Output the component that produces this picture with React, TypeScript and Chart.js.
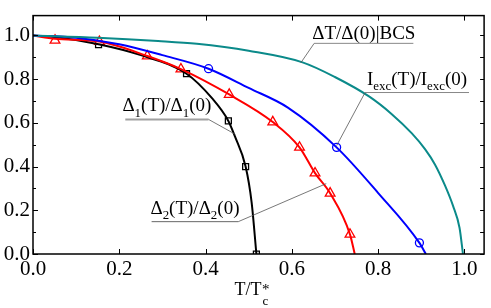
import React, { useEffect, useRef } from "react";
import { Chart, registerables } from "chart.js";

Chart.register(...registerables);

// ---- data ----
const bcsT = [0, 0.15, 0.29, 0.38, 0.5, 0.625, 0.7, 0.78, 0.832, 0.878, 0.909, 0.932, 0.955, 0.974, 0.989, 0.997];
const bcsV = [1.0, 0.99, 0.975, 0.962, 0.93, 0.877, 0.81, 0.72, 0.64, 0.553, 0.48, 0.41, 0.315, 0.22, 0.12, 0.0];

const iexcLineT = [0, 0.1, 0.2, 0.3, 0.407, 0.5, 0.591, 0.704, 0.8, 0.896, 0.911];
const iexcLineV = [1.0, 0.99, 0.96, 0.91, 0.848, 0.76, 0.67, 0.488, 0.28, 0.051, 0.0];
const iexcMarkT = [0.407, 0.704, 0.896];
const iexcMarkV = [0.848, 0.488, 0.051];

const d2T = [0, 0.051, 0.154, 0.265, 0.343, 0.455, 0.556, 0.618, 0.654, 0.689, 0.735, 0.746];
const d2V = [1.0, 0.985, 0.972, 0.906, 0.846, 0.73, 0.604, 0.488, 0.37, 0.278, 0.09, 0.0];
const d2MarkT = [0.051, 0.154, 0.265, 0.343, 0.455, 0.556, 0.618, 0.654, 0.689, 0.735];
const d2MarkV = [0.978, 0.972, 0.906, 0.846, 0.73, 0.604, 0.488, 0.37, 0.278, 0.09];

const d1T = [0, 0.05, 0.152, 0.25, 0.356, 0.415, 0.453, 0.468, 0.493, 0.507, 0.518];
const d1V = [1.0, 0.993, 0.96, 0.91, 0.825, 0.713, 0.609, 0.539, 0.4, 0.235, 0.0];
const d1MarkT = [0.152, 0.356, 0.453, 0.493, 0.518];
const d1MarkV = [0.958, 0.825, 0.609, 0.4, 0.0];

const xTicks = [0, 0.2, 0.4, 0.6, 0.8, 1.0];
const yTicks = [0, 0.2, 0.4, 0.6, 0.8, 1.0];

const COL_BCS = "#0b8a8a";
const COL_IEXC = "#0000ff";
const COL_D2 = "#ff0000";
const COL_D1 = "#000000";

const FONT = '"Liberation Serif", "Times New Roman", serif';

type Run = [string, "n" | "sub" | "sup"];

const labels: { runs: Run[]; ux0: number; ux1: number; uy: number; lx: number; ly: number; ucol: string; uw: number }[] = [
  { runs: [["Δ", "n"], ["1", "sub"], ["(T)/Δ", "n"], ["1", "sub"], ["(0)", "n"]], ux0: 0.214, ux1: 0.407, uy: 0.616, lx: 0.469, ly: 0.548, ucol: "#a0a0a0", uw: 2 },
  { runs: [["Δ", "n"], ["2", "sub"], ["(T)/Δ", "n"], ["2", "sub"], ["(0)", "n"]], ux0: 0.275, ux1: 0.476, uy: 0.148, lx: 0.68, ly: 0.322, ucol: "#666666", uw: 1 },
  { runs: [["ΔT/Δ(0)|BCS", "n"]], ux0: 0.652, ux1: 0.882, uy: 0.964, lx: 0.621, ly: 0.875, ucol: "#888888", uw: 1 },
  { runs: [["I", "n"], ["exc", "sub"], ["(T)/I", "n"], ["exc", "sub"], ["(0)", "n"]], ux0: 0.77, ux1: 1.011, uy: 0.739, lx: 0.704, ly: 0.496, ucol: "#888888", uw: 1 },
];

function drawRuns(ctx: CanvasRenderingContext2D, runs: Run[], x: number, y: number, size: number) {
  let cx = x;
  for (const [t, m] of runs) {
    const s = m === "n" ? size : size * 0.68;
    ctx.font = `${s}px ${FONT}`;
    const dy = m === "sub" ? size * 0.28 : m === "sup" ? -size * 0.42 : 0;
    ctx.fillText(t, cx, y + dy);
    cx += ctx.measureText(t).width;
  }
  return cx - x;
}

function measureRuns(ctx: CanvasRenderingContext2D, runs: Run[], size: number) {
  let w = 0;
  for (const [t, m] of runs) {
    const s = m === "n" ? size : size * 0.68;
    ctx.font = `${s}px ${FONT}`;
    w += ctx.measureText(t).width;
  }
  return w;
}

const framePlugin = {
  id: "frame",
  afterDatasetsDraw(chart: any) {
    const ctx: CanvasRenderingContext2D = chart.ctx;
    const { left, right, top, bottom } = chart.chartArea;
    const xs = chart.scales.x;
    const ys = chart.scales.y;
    ctx.save();
    // annotations
    for (const a of labels) {
      const ux0 = xs.getPixelForValue(a.ux0);
      const ux1 = xs.getPixelForValue(a.ux1);
      const uy = ys.getPixelForValue(a.uy);
      const lx = xs.getPixelForValue(a.lx);
      const ly = ys.getPixelForValue(a.ly);
      ctx.strokeStyle = a.ucol;
      ctx.lineWidth = a.uw;
      ctx.beginPath();
      ctx.moveTo(ux0, uy);
      ctx.lineTo(ux1, uy);
      ctx.stroke();
      ctx.strokeStyle = "#555555";
      ctx.lineWidth = 0.8;
      ctx.beginPath();
      const sx = a.lx < a.ux0 ? ux0 : ux1;
      ctx.moveTo(sx, uy);
      ctx.lineTo(lx, ly);
      ctx.stroke();
      const size = 19;
      const w = measureRuns(ctx, a.runs, size);
      ctx.fillStyle = "#000";
      ctx.textBaseline = "alphabetic";
      ctx.textAlign = "left";
      const hasSub = a.runs.some((r) => r[1] === "sub");
      drawRuns(ctx, a.runs, (ux0 + ux1) / 2 - w / 2, uy - (hasSub ? 8 : 4), size);
    }
    // frame
    ctx.strokeStyle = "#000";
    ctx.lineWidth = 1.5;
    ctx.strokeRect(left, top, right - left, bottom - top);
    ctx.lineWidth = 1;
    ctx.beginPath();
    for (let v = 0; v <= 1.0001; v += 0.2) {
      const px = Math.round(xs.getPixelForValue(v)) + 0.5;
      ctx.moveTo(px, bottom);
      ctx.lineTo(px, bottom - 5);
      ctx.moveTo(px, top);
      ctx.lineTo(px, top + 5);
    }
    for (let i = 0; i <= 10; i++) {
      const v = i / 10;
      const py = Math.round(ys.getPixelForValue(v)) + 0.5;
      const len = i % 2 === 0 ? 5 : 3;
      ctx.moveTo(left, py);
      ctx.lineTo(left + len, py);
      ctx.moveTo(right, py);
      ctx.lineTo(right - 4, py);
    }
    ctx.stroke();
    // x axis title T/T*c
    ctx.fillStyle = "#000";
    ctx.textAlign = "left";
    ctx.textBaseline = "alphabetic";
    const cx = (left + right) / 2 - 24;
    const by = 295;
    ctx.font = `18px ${FONT}`;
    const w0 = ctx.measureText("T/T").width;
    ctx.fillText("T/T", cx, by);
    ctx.font = `15px ${FONT}`;
    ctx.fillText("*", cx + w0 + 0.5, by - 1);
    ctx.font = `13px ${FONT}`;
    ctx.fillText("c", cx + w0 + 1, by + 10);
    ctx.restore();
  },
};

function pts(xs: number[], ys: number[]) {
  return xs.map((x, i) => ({ x, y: ys[i] }));
}

export default function App() {
  const ref = useRef<HTMLCanvasElement>(null);
  useEffect(() => {
    document.body.style.margin = "0";
    const lineDs = (data: any, color: string) => ({
      data,
      borderColor: color,
      borderWidth: 2,
      pointRadius: 0,
      showLine: true,
      cubicInterpolationMode: "monotone" as const,
      fill: false,
    });
    const markDs = (data: any, color: string, style: string, r: number) => ({
      data,
      borderColor: color,
      backgroundColor: "#ffffff",
      borderWidth: 1.3,
      pointRadius: r,
      pointStyle: style,
      showLine: false,
    });
    const chart = new Chart(ref.current!, {
      type: "scatter",
      data: {
        datasets: [
          lineDs(pts(bcsT, bcsV), COL_BCS),
          lineDs(pts(iexcLineT, iexcLineV), COL_IEXC),
          lineDs(pts(d2T, d2V), COL_D2),
          lineDs(pts(d1T, d1V), COL_D1),
          markDs(pts(iexcMarkT, iexcMarkV), COL_IEXC, "circle", 4),
          markDs(pts(d2MarkT, d2MarkV), COL_D2, "triangle", 5.6),
          markDs(pts(d1MarkT, d1MarkV), COL_D1, "rect", 4.2),
        ],
      },
      options: {
        animation: false,
        responsive: false,
        maintainAspectRatio: false,
        layout: { padding: { top: 3, right: 3, left: 0, bottom: 0 } },
        plugins: { legend: { display: false }, tooltip: { enabled: false } },
        scales: {
          x: {
            type: "linear",
            min: 0,
            max: 1.046,
            afterFit: (s: any) => {
              s.height = 54;
            },
            afterBuildTicks: (s: any) => {
              s.ticks = xTicks.map((v) => ({ value: v }));
            },
            grid: { display: false, drawTicks: false },
            border: { display: false },
            ticks: {
              padding: 3,
              color: "#000",
              font: { family: FONT, size: 21 },
              callback: (v: any) => Number(v).toFixed(1),
            },
          },
          y: {
            type: "linear",
            min: 0,
            max: 1.091,
            afterFit: (s: any) => {
              s.width = 33;
            },
            afterBuildTicks: (s: any) => {
              s.ticks = yTicks.map((v) => ({ value: v }));
            },
            grid: { display: false, drawTicks: false },
            border: { display: false },
            ticks: {
              padding: 3,
              color: "#000",
              font: { family: FONT, size: 21 },
              callback: (v: any) => Number(v).toFixed(1),
            },
          },
        },
      },
      plugins: [framePlugin],
    });
    return () => chart.destroy();
  }, []);
  return (
    <div style={{ position: "absolute", left: 0, top: 0, width: 491, height: 308, background: "#fff" }}>
      <canvas ref={ref} width={491} height={308} style={{ width: 491, height: 308 }} />
    </div>
  );
}
